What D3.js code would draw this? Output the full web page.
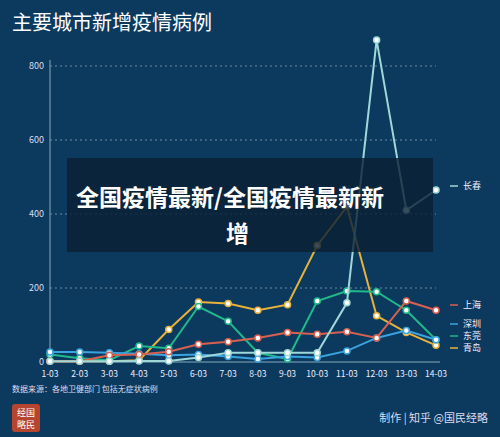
<!DOCTYPE html><html><head><meta charset="utf-8"><script src="https://cdn.jsdelivr.net/npm/d3@7"></script>
<style>body{margin:0;background:#0c3a5f}svg{display:block;font-family:"Noto Sans CJK SC","Noto Sans",sans-serif}</style></head><body><svg width="500" height="437"></svg>
<script>
const dates=["1-03","2-03","3-03","4-03","5-03","6-03","7-03","8-03","9-03","10-03","11-03","12-03","13-03","14-03"];
const changchun=[2,2,2,3,3,12,25,25,25,25,160,870,410,465];
const shanghai=[2,2,18,20,28,48,55,65,80,75,82,65,165,140];
const shenzhen=[27,27,25,22,18,20,15,8,15,12,30,65,85,60];
const dongguan=[20,10,5,43,37,150,110,25,8,165,192,190,140,60];
const qingdao=[2,2,2,5,88,162,158,140,155,315,420,125,80,45];
const yTicks=[0,200,400,600,800];
const series=[
 {name:"长春",v:changchun,c:"#9fd8d8",ly:186},
 {name:"上海",v:shanghai,c:"#d9604f",ly:305},
 {name:"深圳",v:shenzhen,c:"#3aa3e0",ly:324},
 {name:"东莞",v:dongguan,c:"#1fb98a",ly:336},
 {name:"青岛",v:qingdao,c:"#e8b23a",ly:348}];
const svg=d3.select("svg");
const x=d3.scalePoint().domain(dates).range([50,436]);
const y=d3.scaleLinear().domain([0,800]).range([362,66]);
svg.append("text").attr("x",12).attr("y",30).attr("fill","#fff").attr("font-size",20).text("主要城市新增疫情病例");
yTicks.forEach(t=>{
 if(t>0)svg.append("line").attr("x1",50).attr("x2",436).attr("y1",y(t)).attr("y2",y(t)).attr("stroke","#9ab").attr("stroke-dasharray","2,3").attr("opacity",0.7);
 svg.append("text").attr("x",44).attr("y",y(t)+3).attr("text-anchor","end").attr("fill","#dde").attr("font-size",9).text(t);
});
svg.append("line").attr("x1",50).attr("x2",50).attr("y1",60).attr("y2",362).attr("stroke","#8ab");
svg.append("line").attr("x1",50).attr("x2",440).attr("y1",362).attr("y2",362).attr("stroke","#8ab");
dates.forEach(d=>svg.append("text").attr("x",x(d)).attr("y",377).attr("text-anchor","middle").attr("fill","#eef").attr("font-size",8.5).text(d));
const line=d3.line().x((d,i)=>x(dates[i])).y(d=>y(d));
series.slice().reverse().forEach(s=>{
 svg.append("path").attr("d",line(s.v)).attr("fill","none").attr("stroke",s.c).attr("stroke-width",2);
 s.v.forEach((v,i)=>svg.append("circle").attr("cx",x(dates[i])).attr("cy",y(v)).attr("r",3).attr("fill","#fff").attr("stroke",s.c).attr("stroke-width",1.5));
 svg.append("line").attr("x1",450).attr("x2",458).attr("y1",s.ly).attr("y2",s.ly).attr("stroke",s.c).attr("stroke-width",1.5);
 svg.append("text").attr("x",463).attr("y",s.ly+3).attr("fill","#eef").attr("font-size",9).text(s.name);
});
svg.append("text").attr("x",12).attr("y",392).attr("fill","#dde").attr("font-size",8).text("数据来源：各地卫健部门 包括无症状病例");
svg.append("rect").attr("x",67).attr("y",158).attr("width",366).attr("height",94).attr("fill","#0a1f33").attr("opacity",0.8);
svg.append("text").attr("x",76).attr("y",206).attr("fill","#fff").attr("font-size",23).attr("font-weight","bold").text("全国疫情最新/全国疫情最新新");
svg.append("text").attr("x",226).attr("y",242).attr("fill","#fff").attr("font-size",23).attr("font-weight","bold").text("增");
svg.append("rect").attr("x",12).attr("y",404).attr("width",28).attr("height",28).attr("fill","#b5452f").attr("rx",3);
svg.append("text").attr("x",26).attr("y",416).attr("text-anchor","middle").attr("fill","#fff").attr("font-size",9).text("经国");
svg.append("text").attr("x",26).attr("y",428).attr("text-anchor","middle").attr("fill","#fff").attr("font-size",9).text("略民");
svg.append("text").attr("x",488).attr("y",422).attr("text-anchor","end").attr("fill","#dde").attr("font-size",11).text("制作 | 知乎 @国民经略");
</script></body></html>
